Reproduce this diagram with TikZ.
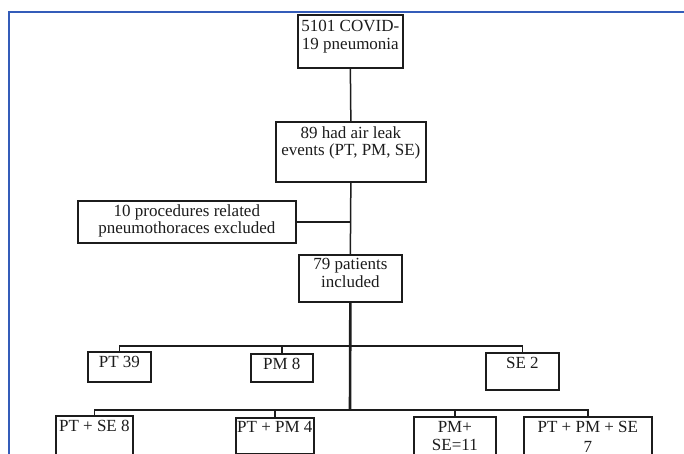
\documentclass[tikz,border=0pt]{standalone}
\usepackage{fontspec}
\setmainfont{Liberation Serif}
\definecolor{framebl}{RGB}{52,92,185}
\definecolor{ink}{RGB}{28,28,28}
\newcommand{\boxtext}[4]{\parbox[t][#2][t]{#1}{\centering\rule{0pt}{#3}#4}}
\tikzset{
  boxst/.style={draw=ink, line width=1.7pt, inner sep=0pt, anchor=north west,
    font=\fontsize{17}{17.5}\selectfont, text=ink},
  link/.style={draw=ink, line width=1.5pt},
  trunk/.style={draw=ink, line width=2.6pt}
}
\begin{document}
\begin{tikzpicture}[x=1pt,y=-1pt]
\useasboundingbox (0,0) rectangle (684,454);
\clip (0,0) rectangle (684,454);
\fill[white] (0,0) rectangle (684,454);
% blue frame
\draw[framebl, line width=2pt] (9,460) -- (9,12) -- (690,12);
% boxes
\node[boxst] (b1) at (297,14) {\boxtext{105pt}{53pt}{17pt}{5101 COVID-\\19 pneumonia}};
\node[boxst] (b2) at (275,121) {\boxtext{150pt}{60pt}{16.5pt}{89 had air leak\\events (PT, PM, SE)}};
\node[boxst] (b3) at (77,200) {\boxtext{218pt}{42pt}{15.5pt}{10 procedures related\\pneumothoraces excluded}};
\node[boxst] (b4) at (298,254) {\boxtext{103pt}{47pt}{15pt}{79 patients\\included}};
\node[boxst] (pt39) at (87,351) {\boxtext{63pt}{30pt}{16pt}{PT 39}};
\node[boxst] (pm8) at (250,353) {\boxtext{62pt}{28pt}{16pt}{PM 8}};
\node[boxst] (se2) at (485,352) {\boxtext{73pt}{37pt}{16pt}{SE 2}};
\node[boxst] (ptse) at (55,415) {\boxtext{77pt}{50pt}{16pt}{PT + SE 8}};
\node[boxst] (ptpm) at (235,417) {\boxtext{78pt}{36pt}{15pt}{PT + PM 4}};
\node[boxst] (pmse) at (413,416) {\boxtext{82pt}{50pt}{16pt}{PM+\\SE=11}};
\node[boxst] (all) at (523,416) {\boxtext{128pt}{50pt}{16pt}{PT + PM + SE\\[2pt]7}};
% junctions
\coordinate (j3) at (350,221);
\coordinate (j1) at (350,346);
\coordinate (j2) at (350,410);
% connectors
\draw[link] (b1.south) -- (b2.north);
\draw[link] (b2.south) -- (b4.north);
\draw[link] (b3.east) -- (b3.east -| b2.south);
\draw[link] (pt39.north) -- (pt39.north |- j1) -- (se2.north |- j1) -- (se2.north);
\draw[link] (pm8.north) -- (pm8.north |- j1);
\draw[link] (ptse.north) -- (ptse.north |- j2) -- (all.north |- j2) -- (all.north);
\draw[link] (ptpm.north) -- (ptpm.north |- j2);
\draw[link] (pmse.north) -- (pmse.north |- j2);
\draw[trunk] (ptpm.north |- j2) -- (j2);
\draw[trunk] (b4.south) -- (j2);
\end{tikzpicture}
\end{document}
